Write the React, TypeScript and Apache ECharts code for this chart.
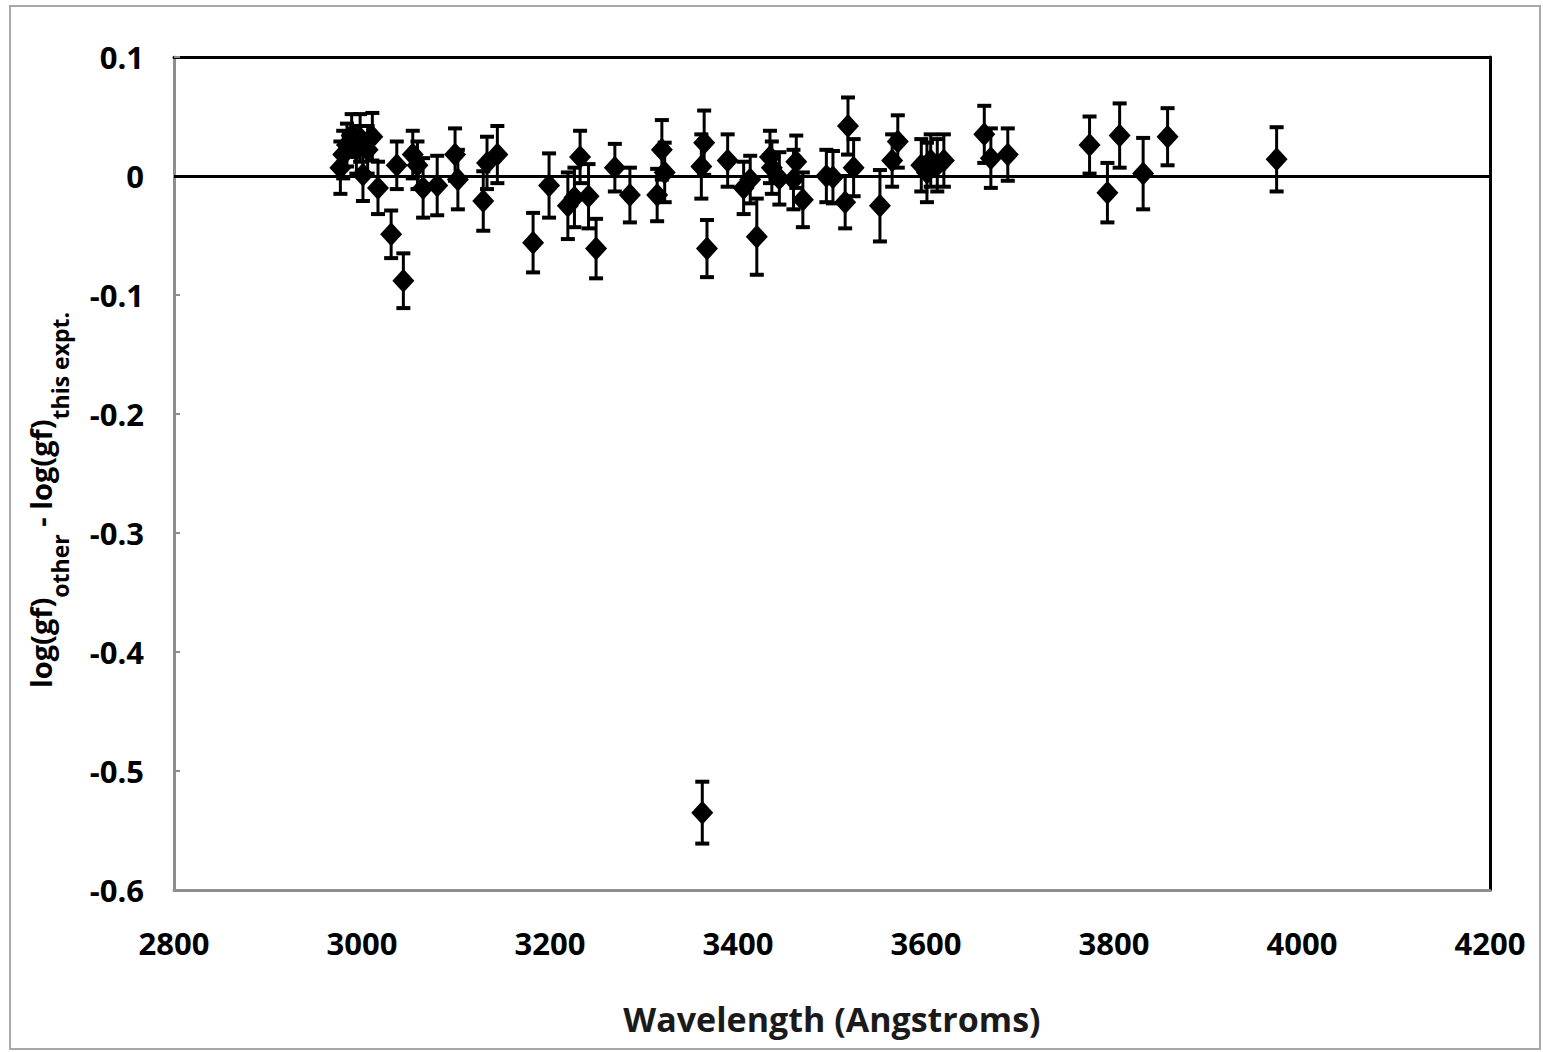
import React, { useEffect, useRef } from "react";
import * as echarts from "echarts";

const wavelength = [
  2977, 2980, 2984, 2989, 2994, 2998, 3001, 3006, 3011, 3017,
  3031, 3037, 3044, 3054, 3059, 3065, 3080, 3099, 3102, 3129,
  3133, 3144, 3182, 3199, 3219, 3226, 3232, 3241, 3249, 3269,
  3285, 3314, 3319, 3322, 3361, 3364, 3367, 3362, 3389, 3406,
  3413, 3420, 3434, 3436, 3444, 3459, 3462, 3469, 3494, 3501,
  3514, 3517, 3523, 3551, 3564, 3570, 3595, 3601, 3605, 3612,
  3619, 3662, 3669, 3687, 3774, 3793, 3806, 3831, 3857, 3973,
];
const diff = [
  0.007, 0.018, 0.026, 0.034, 0.022, 0.032, 0.001, 0.022, 0.033, -0.010,
  -0.049, 0.009, -0.088, 0.018, 0.009, -0.010, -0.008, 0.018, -0.003, -0.021,
  0.011, 0.018, -0.056, -0.008, -0.025, -0.018, 0.016, -0.017, -0.061, 0.007,
  -0.016, -0.016, 0.022, 0.003, 0.008, 0.028, -0.061, -0.535, 0.013, -0.010,
  -0.003, -0.051, 0.016, 0.007, -0.002, -0.003, 0.012, -0.020, 0.000, -0.001,
  -0.022, 0.042, 0.007, -0.025, 0.013, 0.029, 0.009, 0.003, 0.013, 0.009,
  0.013, 0.035, 0.015, 0.018, 0.026, -0.014, 0.034, 0.002, 0.033, 0.014,
];
const err = [
  0.022, 0.020, 0.018, 0.018, 0.020, 0.020, 0.022, 0.020, 0.020, 0.022,
  0.020, 0.020, 0.023, 0.020, 0.020, 0.025, 0.025, 0.022, 0.025, 0.025,
  0.022, 0.024, 0.025, 0.027, 0.028, 0.025, 0.022, 0.027, 0.025, 0.020,
  0.023, 0.022, 0.025, 0.025, 0.027, 0.027, 0.024, 0.026, 0.022, 0.022,
  0.020, 0.032, 0.022, 0.022, 0.022, 0.025, 0.022, 0.023, 0.022, 0.022,
  0.022, 0.024, 0.024, 0.030, 0.022, 0.022, 0.022, 0.025, 0.022, 0.022,
  0.022, 0.024, 0.025, 0.022, 0.024, 0.025, 0.027, 0.030, 0.024, 0.027,
];

const xTitle = "Wavelength (Angstroms)";
const yTitleParts = ["log(gf)", "other", " - log(gf)", "this expt."];
const FONT = "'Open Sans', sans-serif";

export default function App() {
  const ref = useRef<HTMLDivElement>(null);
  useEffect(() => {
    document.body.style.margin = "0";
    if (!ref.current) return;
    const chart = echarts.init(ref.current, null, { renderer: "svg" });
    const points = wavelength.map((w, i) => [w, diff[i]]);
    const bars = wavelength.map((w, i) => [w, diff[i] - err[i], diff[i] + err[i]]);
    const gray = "#8e8e8e";
    chart.setOption({
      animation: false,
      backgroundColor: "#ffffff",
      graphic: [
        {
          type: "rect",
          shape: { x: 10, y: 6, width: 1530, height: 1043 },
          style: { fill: "none", stroke: "#a8a8a8", lineWidth: 2 },
          silent: true,
        },
        {
          type: "text",
          x: 40,
          y: 500,
          rotation: Math.PI / 2,
          silent: true,
          style: {
            text: `{b|${yTitleParts[0]}}{s|${yTitleParts[1]}}{b|${yTitleParts[2]}}{s|${yTitleParts[3]}}`,
            align: "center",
            verticalAlign: "middle",
            rich: {
              b: { fontFamily: FONT, fontWeight: "bold", fontSize: 29, fill: "#000", lineHeight: 62, verticalAlign: "middle" },
              s: { fontFamily: FONT, fontWeight: "bold", fontSize: 23, fill: "#000", lineHeight: 23, verticalAlign: "bottom" },
            },
          },
        },
      ],
      grid: { left: 174, right: 53, top: 57, bottom: 162, containLabel: false },
      xAxis: [
        {
          type: "value",
          min: 2800,
          max: 4200,
          interval: 200,
          name: xTitle,
          nameLocation: "middle",
          nameGap: 112,
          nameTextStyle: { fontFamily: FONT, fontWeight: "bold", fontSize: 34, color: "#1a1a1a" },
          axisLine: { show: true, onZero: false, lineStyle: { color: gray, width: 3 } },
          axisTick: { show: false },
          axisLabel: {
            margin: 37,
            fontFamily: FONT,
            fontWeight: "bold",
            fontSize: 31,
            color: "#000",
            formatter: (v: number) => String(v),
          },
          splitLine: { show: false },
        },
        {
          type: "value",
          position: "top",
          min: 2800,
          max: 4200,
          interval: 200,
          axisLine: { show: true, onZero: false, lineStyle: { color: "#000", width: 3 } },
          axisTick: { show: false },
          axisLabel: { show: false },
          splitLine: { show: false },
        },
      ],
      yAxis: [
        {
          type: "value",
          min: -0.6,
          max: 0.1,
          interval: 0.1,
          axisLine: { show: true, onZero: false, lineStyle: { color: gray, width: 3 } },
          axisTick: { show: true, inside: true, length: 6, lineStyle: { color: gray, width: 2 } },
          axisLabel: {
            margin: 30,
            fontFamily: FONT,
            fontWeight: "bold",
            fontSize: 31,
            color: "#000",
            formatter: (v: number) => {
              const r = Math.round(v * 10) / 10;
              return r === 0 ? "0" : String(r);
            },
          },
          splitLine: { show: false },
        },
        {
          type: "value",
          position: "right",
          min: -0.6,
          max: 0.1,
          interval: 0.1,
          axisLine: { show: true, onZero: false, lineStyle: { color: "#000", width: 3 } },
          axisTick: { show: false },
          axisLabel: { show: false },
          splitLine: { show: false },
        },
      ],
      series: [
        {
          type: "custom",
          xAxisIndex: 0,
          yAxisIndex: 0,
          data: bars,
          encode: { x: 0, y: [1, 2] },
          z: 2,
          silent: true,
          renderItem: (params: any, api: any) => {
            const x = api.value(0);
            const lo = api.coord([x, api.value(1)]);
            const hi = api.coord([x, api.value(2)]);
            const hw = 7;
            const st = { stroke: "#000", lineWidth: 3 };
            const cap = { stroke: "#000", lineWidth: 4 };
            return {
              type: "group",
              children: [
                { type: "line", shape: { x1: lo[0], y1: lo[1], x2: hi[0], y2: hi[1] }, style: st },
                { type: "line", shape: { x1: lo[0] - hw, y1: lo[1], x2: lo[0] + hw, y2: lo[1] }, style: cap },
                { type: "line", shape: { x1: hi[0] - hw, y1: hi[1], x2: hi[0] + hw, y2: hi[1] }, style: cap },
              ],
            };
          },
        },
        {
          type: "scatter",
          xAxisIndex: 0,
          yAxisIndex: 0,
          data: points,
          symbol: "diamond",
          symbolSize: [22, 24],
          itemStyle: { color: "#000", opacity: 1 },
          z: 3,
          markLine: {
            silent: true,
            symbol: ["none", "none"],
            label: { show: false },
            lineStyle: { color: "#000", width: 3, type: "solid" },
            data: [{ yAxis: 0 }],
          },
        },
      ],
    });
    return () => chart.dispose();
  }, []);
  return <div ref={ref} style={{ width: 1543, height: 1052 }} />;
}
